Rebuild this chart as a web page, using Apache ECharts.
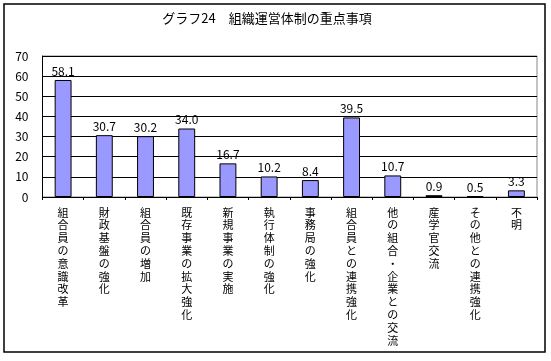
<!DOCTYPE html>
<html><head><meta charset="utf-8">
<script src="https://cdn.jsdelivr.net/npm/echarts@6/dist/echarts.min.js"></script>
<style>html,body{margin:0;padding:0;background:#fff}#c{width:551px;height:361px}</style>
</head><body><div id="c"></div>
<script>
const title = 'グラフ24　組織運営体制の重点事項';
const categories = ['組合員の意識改革','財政基盤の強化','組合員の増加','既存事業の拡大強化','新規事業の実施','執行体制の強化','事務局の強化','組合員との連携強化','他の組合・企業との交流','産学官交流','その他との連携強化','不明'];
const values = [58.1, 30.7, 30.2, 34.0, 16.7, 10.2, 8.4, 39.5, 10.7, 0.9, 0.5, 3.3];
const yTicks = [0, 10, 20, 30, 40, 50, 60, 70];

const FONT = '"Noto Sans CJK JP", sans-serif';
const chart = echarts.init(document.getElementById('c'));
chart.setOption({
  animation: false,
  title: {text: title, left: 262, top: 7, textAlign: 'center',
    textStyle: {fontSize: 13, fontWeight: 'normal', color: '#000', fontFamily: FONT}},
  graphic: [{type: 'rect', shape: {x: 4, y: 4, width: 541, height: 348},
    style: {fill: 'none', stroke: '#000', lineWidth: 1.5}, silent: true}],
  grid: {left: 42.5, right: 14, top: 56, bottom: 164, show: true, borderColor: '#888', borderWidth: 1},
  xAxis: {type: 'category', data: categories,
    axisLine: {lineStyle: {color: '#000'}},
    axisTick: {show: true, length: 3, lineStyle: {color: '#000'}},
    axisLabel: {interval: 0, margin: 9, verticalAlign: 'top',
      color: '#000', fontFamily: FONT,
      formatter: v => v.split('').map(ch => '{a|' + ch + '}').join('\n'),
      rich: {a: {fontSize: 11, lineHeight: 12.8, color: '#000', fontFamily: FONT}}}},
  yAxis: {type: 'value', min: yTicks[0], max: yTicks[yTicks.length-1], interval: 10,
    axisLine: {show: true, lineStyle: {color: '#000'}},
    axisTick: {show: false},
    splitLine: {lineStyle: {color: '#000', width: 1}},
    axisLabel: {fontSize: 12, color: '#000', margin: 14, fontFamily: FONT}},
  series: [{type: 'bar', data: values, barWidth: '41%',
    itemStyle: {color: '#9999ff', borderColor: '#000', borderWidth: 1},
    label: {show: true, position: 'top', distance: 3, fontSize: 12, color: '#000', fontFamily: FONT,
      formatter: p => p.value.toFixed(1)}}]
});
</script></body></html>
